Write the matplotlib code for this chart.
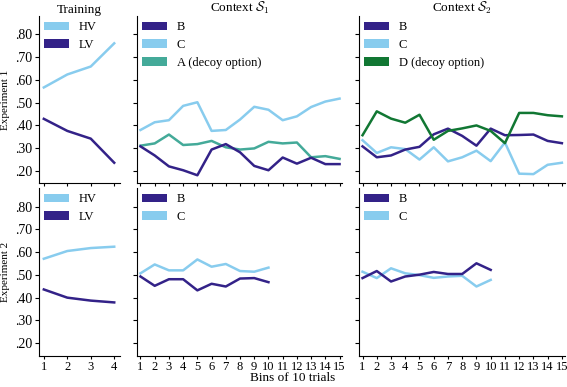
import matplotlib
matplotlib.use("Agg")
import matplotlib.pyplot as plt
from matplotlib.patches import Patch
from matplotlib.ticker import FuncFormatter

plt.rcParams["font.family"] = ["Liberation Serif", "DejaVu Serif"]
plt.rcParams["mathtext.fontset"] = "cm"

DARK = "#332288"
LIGHT = "#88CCEE"
TEAL = "#44AA99"
GREEN = "#117733"

# training bins
train_bins = [1, 2, 3, 4]
exp1_hv = [0.567, 0.624, 0.659, 0.761]
exp1_lv = [0.429, 0.376, 0.342, 0.236]
exp2_hv = [0.571, 0.605, 0.618, 0.624]
exp2_lv = [0.436, 0.400, 0.387, 0.379]

# experiment 1 contexts (15 bins)
bins15 = list(range(1, 16))
e1_s1_b = [0.308, 0.268, 0.220, 0.203, 0.181, 0.294, 0.318, 0.282, 0.222, 0.203,
           0.259, 0.232, 0.258, 0.230, 0.230]
e1_s1_c = [0.380, 0.414, 0.423, 0.486, 0.502, 0.376, 0.380, 0.426, 0.482, 0.469,
           0.423, 0.440, 0.481, 0.505, 0.518]
e1_s1_a = [0.311, 0.321, 0.360, 0.314, 0.318, 0.332, 0.304, 0.294, 0.299, 0.328,
           0.321, 0.325, 0.260, 0.265, 0.253]
e1_s2_b = [0.308, 0.260, 0.268, 0.294, 0.306, 0.361, 0.386, 0.354, 0.311, 0.386,
           0.357, 0.358, 0.360, 0.332, 0.322]
e1_s2_c = [0.335, 0.279, 0.304, 0.296, 0.250, 0.304, 0.242, 0.260, 0.289, 0.243,
           0.325, 0.188, 0.186, 0.227, 0.236]
e1_s2_d = [0.357, 0.462, 0.430, 0.412, 0.447, 0.337, 0.376, 0.387, 0.400, 0.376,
           0.322, 0.455, 0.455, 0.445, 0.440]

# experiment 2 contexts (10 bins)
bins10 = list(range(1, 11))
e2_s1_b = [0.493, 0.452, 0.481, 0.481, 0.432, 0.461, 0.449, 0.484, 0.486, 0.468]
e2_s1_c = [0.507, 0.546, 0.520, 0.520, 0.568, 0.536, 0.548, 0.517, 0.514, 0.532]
e2_s2_b = [0.486, 0.517, 0.471, 0.493, 0.501, 0.513, 0.504, 0.504, 0.551, 0.522]
e2_s2_c = [0.514, 0.486, 0.529, 0.507, 0.499, 0.487, 0.493, 0.496, 0.449, 0.478]

yticks = [0.2, 0.3, 0.4, 0.5, 0.6, 0.7, 0.8]

fig = plt.figure(figsize=(5.67, 3.87), dpi=100)
gs = fig.add_gridspec(2, 3, width_ratios=[81, 206, 206], left=0.069, right=0.996,
                      top=0.958, bottom=0.081, wspace=0.10, hspace=0.03)
axes = [[fig.add_subplot(gs[r, c]) for c in range(3)] for r in range(2)]

LW = 1.8


def legend(ax, labels, colors):
    handles = [Patch(facecolor=c, edgecolor="none") for c in colors]
    ax.legend(handles, labels, loc="upper left", frameon=False, fontsize=9,
              borderaxespad=0.0, borderpad=0.4, handlelength=2.0,
              handleheight=0.7, labelspacing=0.45)


# row 1
ax = axes[0][0]
ax.plot(train_bins, exp1_hv, color=LIGHT, lw=LW)
ax.plot(train_bins, exp1_lv, color=DARK, lw=LW)
legend(ax, ["HV", "LV"], [LIGHT, DARK])
ax.set_title("Training", fontsize=9.5, pad=1.5)
ax.set_ylabel("Experiment 1", fontsize=8)

ax = axes[0][1]
ax.plot(bins15, e1_s1_c, color=LIGHT, lw=LW)
ax.plot(bins15, e1_s1_a, color=TEAL, lw=LW)
ax.plot(bins15, e1_s1_b, color=DARK, lw=LW)
legend(ax, ["B", "C", "A (decoy option)"], [DARK, LIGHT, TEAL])
ax.set_title(r"Context $\mathcal{S}_1$", fontsize=9.5, pad=0.5)

ax = axes[0][2]
ax.plot(bins15, e1_s2_c, color=LIGHT, lw=LW)
ax.plot(bins15, e1_s2_b, color=DARK, lw=LW)
ax.plot(bins15, e1_s2_d, color=GREEN, lw=LW)
legend(ax, ["B", "C", "D (decoy option)"], [DARK, LIGHT, GREEN])
ax.set_title(r"Context $\mathcal{S}_2$", fontsize=9.5, pad=0.5)

# row 2
ax = axes[1][0]
ax.plot(train_bins, exp2_hv, color=LIGHT, lw=LW)
ax.plot(train_bins, exp2_lv, color=DARK, lw=LW)
legend(ax, ["HV", "LV"], [LIGHT, DARK])
ax.set_ylabel("Experiment 2", fontsize=8)

ax = axes[1][1]
ax.plot(bins10, e2_s1_c, color=LIGHT, lw=LW)
ax.plot(bins10, e2_s1_b, color=DARK, lw=LW)
legend(ax, ["B", "C"], [DARK, LIGHT])

ax = axes[1][2]
ax.plot(bins10, e2_s2_c, color=LIGHT, lw=LW)
ax.plot(bins10, e2_s2_b, color=DARK, lw=LW)
legend(ax, ["B", "C"], [DARK, LIGHT])

for r in range(2):
    axes[r][0].yaxis.set_label_coords(-0.365, 0.5)

fmt = FuncFormatter(lambda v, p: ("%.2f" % v).lstrip("0"))
xlims = [(0.8, 4.25), (0.72, 15.2), (0.74, 15.2)]
for r in range(2):
    for c in range(3):
        ax = axes[r][c]
        for s in ["top", "right"]:
            ax.spines[s].set_visible(False)
        ax.set_ylim(0.145, 0.88)
        ax.set_yticks(yticks)
        ax.yaxis.set_major_formatter(fmt)
        ax.set_xlim(*xlims[c])
        ax.set_xticks(train_bins if c == 0 else bins15)
        ax.tick_params(axis="y", labelsize=10, length=3, pad=2)
        ax.tick_params(axis="x", labelsize=9, length=2.5, pad=1)
        if c > 0:
            ax.tick_params(axis="y", labelleft=False)
        if r == 0:
            ax.tick_params(axis="x", labelbottom=False)

fig.text(292.5 / 567, 1 - 381 / 387, "Bins of 10 trials", fontsize=9.5,
         ha="center", va="baseline")

fig.savefig("out.png", dpi=100)
